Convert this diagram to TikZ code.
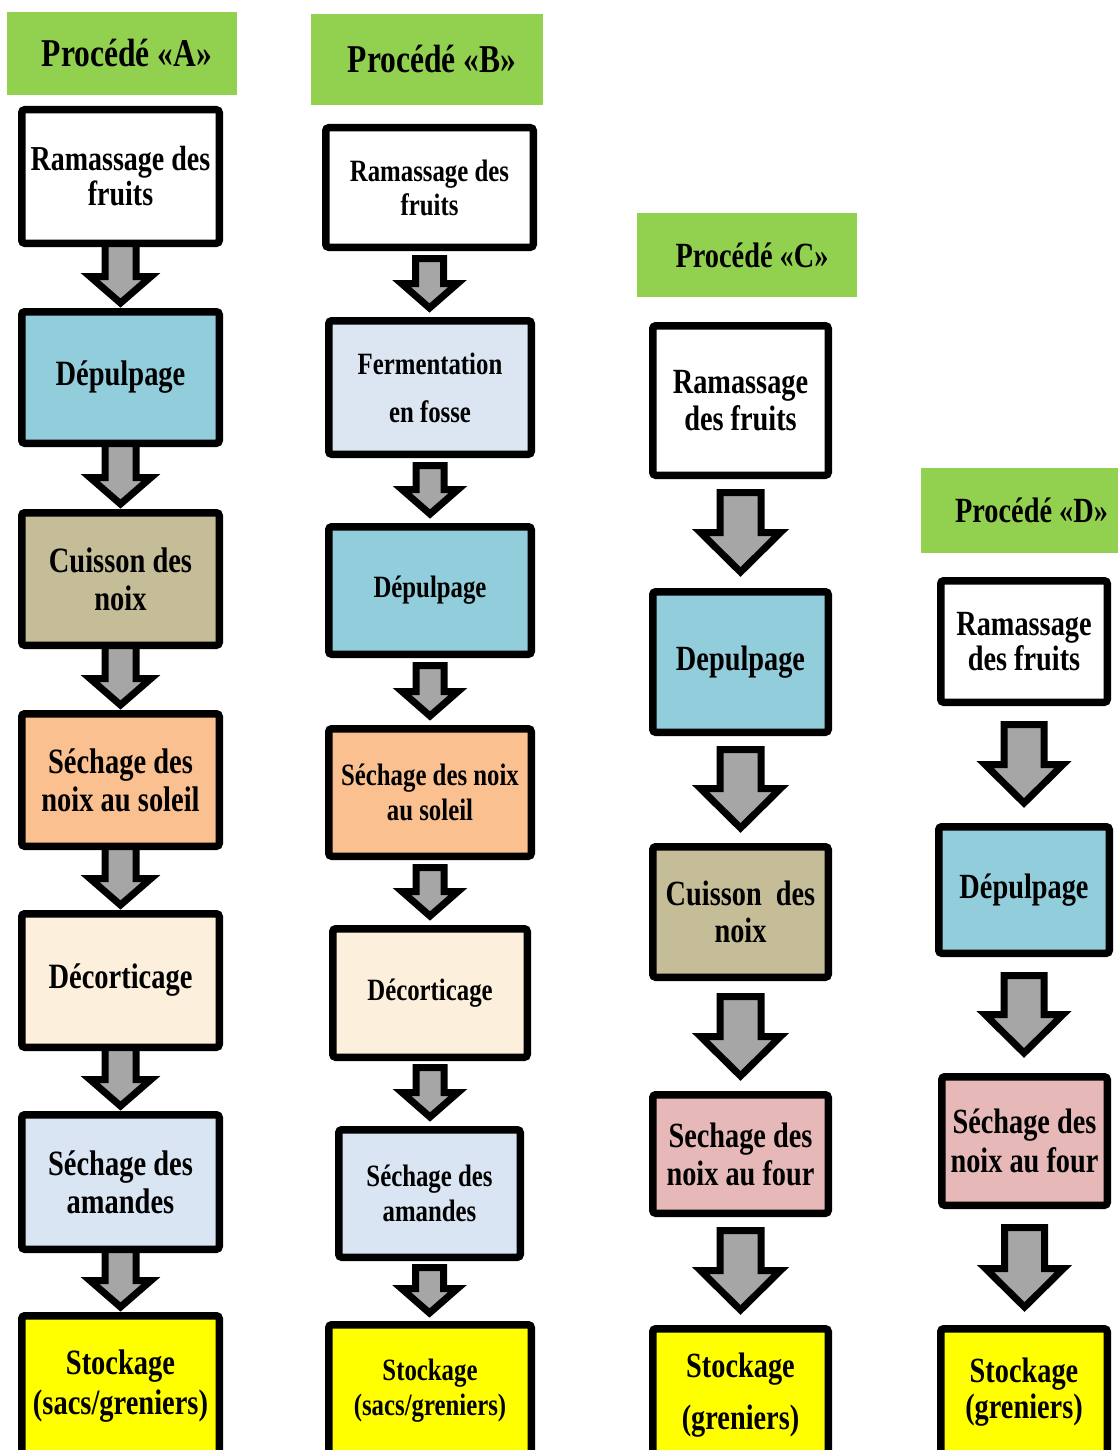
\documentclass[tikz,border=0pt]{standalone}
\usepackage{fontspec}
\newfontfamily\bdfont{Liberation Serif}[FakeStretch=0.8]
\usetikzlibrary{calc}
\definecolor{hdgreen}{HTML}{92D050}
\definecolor{cblue}{HTML}{92CDDC}
\definecolor{ckhaki}{HTML}{C4BD97}
\definecolor{corange}{HTML}{FAC090}
\definecolor{ccream}{HTML}{FCF0DC}
\definecolor{cice}{HTML}{D9E5F3}
\definecolor{cferm}{HTML}{DCE6F2}
\definecolor{cpink}{HTML}{E6B9B8}
\definecolor{cyellow}{HTML}{FFFF00}
\definecolor{agray}{HTML}{A6A6A6}
\tikzset{
  box/.style={draw=black, line width=3.75pt, rounded corners=1.5pt, inner sep=0pt, align=center, text=black},
  hdr/.style={fill=hdgreen, draw=none, inner sep=0pt, align=center, text=black},
  barr/.style={draw=black, fill=agray, line width=3.5pt, line join=miter}
}
% #1 name, #2 left, #3 top, #4 right, #5 bottom, #6 fill, #7 size, #8 skip, #9 text (px units)
\newcommand\bx[9]{%
  \node[box, fill=#6, minimum width={(#4-#2-7.5)*0.5pt}, minimum height={(#5-#3-7.5)*0.5pt},
        font=\bdfont\bfseries\fontsize{#7}{#8}\selectfont] (#1) at ({(#2+#4)/2},{(#3+#5)/2}) {#9};}
\newcommand\hd[7]{%
  \node[hdr, minimum width={(#4-#2)*0.5pt}, minimum height={(#5-#3)*0.5pt},
        font=\bdfont\bfseries\fontsize{#6}{#6}\selectfont] (#1) at ({(#2+#4)/2},{(#3+#5)/2}) {#7};}
% #1 from, #2 to, #3 gap top, #4 gap bottom, #5 shaft half, #6 head half, #7 head length (px, outer)
\newcommand\barrow[7]{%
  \draw[barr] let \p1=(#1.south), \p2=(#2.north) in
    (\x1-#5*0.5pt+1.75pt, \y1-#3*0.5pt-1.75pt) -- (\x1+#5*0.5pt-1.75pt, \y1-#3*0.5pt-1.75pt)
    -- (\x1+#5*0.5pt-1.75pt, \y2+#4*0.5pt+#7*0.5pt-1.75pt)
    -- (\x1+#6*0.5pt-1.75pt, \y2+#4*0.5pt+#7*0.5pt-1.75pt)
    -- (\x1, \y2+#4*0.5pt+2.5pt)
    -- (\x1-#6*0.5pt+1.75pt, \y2+#4*0.5pt+#7*0.5pt-1.75pt)
    -- (\x1-#5*0.5pt+1.75pt, \y2+#4*0.5pt+#7*0.5pt-1.75pt) -- cycle;}
\begin{document}
\begin{tikzpicture}[x=0.5pt, y=-0.5pt]
\useasboundingbox (0,0) rectangle (1118,1450);
\clip (0,0) rectangle (1118,1450);
% ---------------- Column A
\hd{hA}{7}{12}{237}{95}{19.7}{\hspace*{5pt}Procédé «A»}
\bx{a1}{18}{106}{223}{247}{white}{17.5}{17.5}{Ramassage des\\fruits}
\bx{a2}{18}{308}{223}{447}{cblue}{17.8}{18}{Dépulpage}
\bx{a3}{18}{509}{223}{649}{ckhaki}{17.8}{19}{Cuisson des\\noix}
\bx{a4}{18}{710}{223}{850}{corange}{17.8}{19}{Séchage des\\noix au soleil}
\bx{a5}{18}{910}{223}{1051}{ccream}{17.8}{18}{Décorticage}
\bx{a6}{18}{1111}{223}{1253}{cice}{17.8}{19}{Séchage des\\amandes}
\bx{a7}{18}{1312}{223}{1460}{cyellow}{17.8}{20}{Stockage\\(sacs/greniers)}
% ---------------- Column B
\hd{hB}{311}{14}{543}{105}{19.7}{\hspace*{5pt}Procédé «B»}
\bx{b1}{322}{124}{537}{251}{white}{15.5}{17}{Ramassage des\\fruits}
\bx{b2}{325}{317}{535}{458}{cferm}{15.5}{24}{Fermentation\\en fosse}
\bx{b3}{325}{523}{535}{658}{cblue}{15.5}{17}{Dépulpage}
\bx{b4}{325}{725}{535}{860}{corange}{15.5}{17.5}{Séchage des noix\\au soleil}
\bx{b5}{329}{925}{531}{1061}{ccream}{15.5}{17}{Décorticage}
\bx{b6}{335}{1126}{524}{1261}{cice}{15.5}{17.5}{Séchage des\\amandes}
\bx{b7}{325}{1321}{535}{1460}{cyellow}{15.5}{17.5}{Stockage\\(sacs/greniers)}
% ---------------- Column C
\hd{hC}{637}{213}{857}{297}{17.7}{\hspace*{5pt}Procédé «C»}
\bx{c1}{649}{322}{832}{479}{white}{17.7}{18.5}{Ramassage\\des fruits}
\bx{c2}{649}{588}{832}{736}{cblue}{17.7}{18}{Depulpage}
\bx{c3}{649}{843}{832}{981}{ckhaki}{17.7}{18.5}{Cuisson\ \ des\\noix}
\bx{c4}{649}{1091}{832}{1217}{cpink}{17.7}{19}{Sechage des\\noix au four}
\bx{c5}{649}{1325}{832}{1465}{cyellow}{17.7}{26}{Stockage\\(greniers)}
% ---------------- Column D
\hd{hD}{921}{468}{1142}{553}{17.7}{Procédé «D»}
\bx{d1}{937}{577}{1111}{706}{white}{17.7}{17.5}{Ramassage\\des fruits}
\bx{d2}{935}{823}{1113}{957}{cblue}{17.7}{18}{Dépulpage}
\bx{d3}{938}{1073}{1111}{1209}{cpink}{17.7}{19.5}{Séchage des\\noix au four}
\bx{d4}{937}{1325}{1111}{1460}{cyellow}{17.7}{18}{Stockage\\(greniers)}
% ---------------- Arrows
\barrow{a1}{a2}{-7}{0}{19}{34}{35}
\barrow{a2}{a3}{-7}{0}{19}{34}{35}
\barrow{a3}{a4}{-7}{0}{19}{34}{35}
\barrow{a4}{a5}{-7}{0}{19}{34}{35}
\barrow{a5}{a6}{-7}{0}{19}{34}{35}
\barrow{a6}{a7}{-7}{0}{19}{34}{35}
\barrow{b1}{b2}{4}{4}{17.5}{31.5}{33}
\barrow{b2}{b3}{4}{4}{17.5}{31.5}{33}
\barrow{b3}{b4}{4}{4}{17.5}{31.5}{33}
\barrow{b4}{b5}{4}{4}{17.5}{31.5}{33}
\barrow{b5}{b6}{3}{4}{17.5}{31.5}{33}
\barrow{b6}{b7}{3}{3}{17.5}{31.5}{33}
\barrow{c1}{c2}{10}{11}{24}{43.5}{48}
\barrow{c2}{c3}{10}{10}{24}{43.5}{48}
\barrow{c3}{c4}{12}{10}{24}{43.5}{48}
\barrow{c4}{c5}{10}{10}{24}{43.5}{48}
\barrow{d1}{d2}{15}{15}{23.5}{42.5}{47}
\barrow{d2}{d3}{15}{15}{23.5}{42.5}{47}
\barrow{d3}{d4}{15}{13}{23.5}{42.5}{47}
\end{tikzpicture}
\end{document}
